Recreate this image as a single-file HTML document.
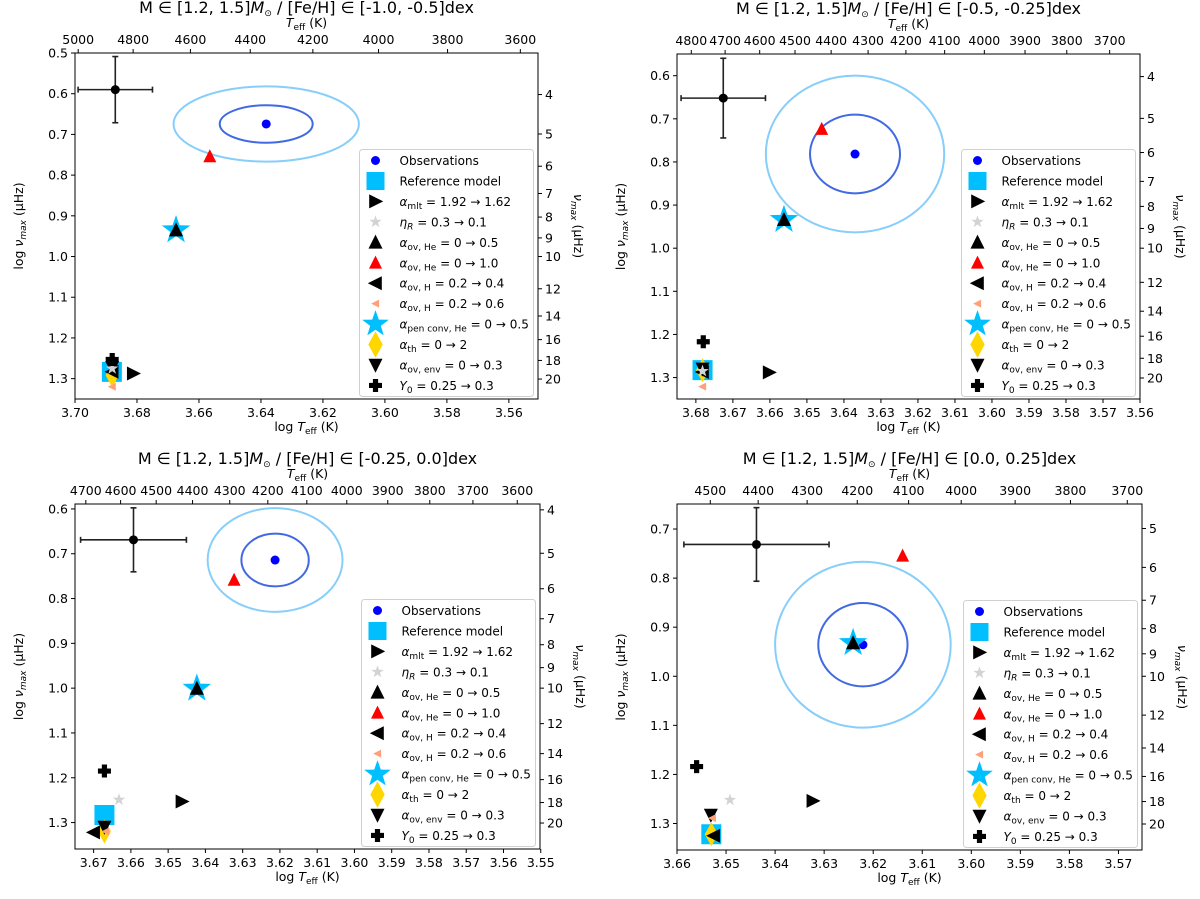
<!DOCTYPE html>
<html><head><meta charset="utf-8"><title>HR diagrams</title>
<style>
html,body{margin:0;padding:0;background:#fff;}
svg{display:block;font-family:"DejaVu Sans","Liberation Sans",sans-serif;}
.tick{font-size:12.5px;fill:#000;}
.lbl{font-size:12.5px;fill:#000;}
.ttl{font-size:16px;fill:#000;}
.leg{font-size:12px;fill:#000;}
</style></head>
<body>
<svg id="fig" width="1200" height="899" viewBox="0 0 1200 899" xmlns="http://www.w3.org/2000/svg"></svg>
<script>
// ---- data ----
const modelNames = ['ref','mlt','eta','ovHe05','ovHe10','ovH04','ovH06','pen','th','env','Y0'];
const p1LogTeff  = [3.6881,3.6812,3.6880,3.6674,3.6565,3.6880,3.6880,3.6674,3.6880,3.6880,3.6880];
const p1LogNumax = [1.2833,1.2873,1.2750,0.9350,0.7540,1.2830,1.3200,0.9350,1.2920,1.2720,1.2530];
const p2LogTeff  = [3.6782,3.6602,3.6782,3.6562,3.6460,3.6782,3.6782,3.6562,3.6782,3.6782,3.6780];
const p2LogNumax = [1.2826,1.2880,1.2850,0.9340,0.7237,1.2870,1.3210,0.9340,1.2830,1.2800,1.2170];
const p3LogTeff  = [3.6671,3.6463,3.6632,3.6423,3.6323,3.6700,3.6668,3.6423,3.6671,3.6671,3.6671];
const p3LogNumax = [1.2830,1.2530,1.2490,1.0008,0.7585,1.3220,1.3200,1.0008,1.3200,1.3100,1.1850];
const p4LogTeff  = [3.6530,3.6323,3.6492,3.6241,3.6140,3.6525,3.6528,3.6241,3.6530,3.6531,3.6560];
const p4LogNumax = [1.3220,1.2540,1.2520,0.9320,0.7545,1.3250,1.2890,0.9320,1.3220,1.2827,1.1840];
const obsLogTeff  = [3.6383,3.6370,3.6213,3.6221];
const obsLogNumax = [0.6744,0.7816,0.7140,0.9357];
const sig1Teff  = [0.0150,0.01216,0.00904,0.0091];
const sig1Numax = [0.0460,0.0913,0.0588,0.0850];
const sig2Teff  = [0.0299,0.0241,0.0181,0.0179];
const sig2Numax = [0.0924,0.1817,0.1157,0.1690];
const ebLogTeff  = [3.6870,3.6726,3.6593,3.6438];
const ebLogNumax = [0.5900,0.6520,0.6690,0.7314];
const ebErrTeff  = [0.0120,0.0114,0.0142,0.0148];
const ebErrNumax = [0.0813,0.0924,0.0714,0.0750];
const titleFeH = ['[-1.0, -0.5]','[-0.5, -0.25]','[-0.25, 0.0]','[0.0, 0.25]'];
const bottomTicks = [
  ['3.70','3.68','3.66','3.64','3.62','3.60','3.58','3.56'],
  ['3.68','3.67','3.66','3.65','3.64','3.63','3.62','3.61','3.60','3.59','3.58','3.57','3.56'],
  ['3.67','3.66','3.65','3.64','3.63','3.62','3.61','3.60','3.59','3.58','3.57','3.56','3.55'],
  ['3.66','3.65','3.64','3.63','3.62','3.61','3.60','3.59','3.58','3.57']];
const leftTicks = [
  ['0.5','0.6','0.7','0.8','0.9','1.0','1.1','1.2','1.3'],
  ['0.6','0.7','0.8','0.9','1.0','1.1','1.2','1.3'],
  ['0.6','0.7','0.8','0.9','1.0','1.1','1.2','1.3'],
  ['0.7','0.8','0.9','1.0','1.1','1.2','1.3']];
const topTicks = [
  [5000,4800,4600,4400,4200,4000,3800,3600],
  [4800,4700,4600,4500,4400,4300,4200,4100,4000,3900,3800,3700],
  [4700,4600,4500,4400,4300,4200,4100,4000,3900,3800,3700,3600],
  [4500,4400,4300,4200,4100,4000,3900,3800,3700]];
const rightTicks = [
  [4,5,6,7,8,9,10,12,14,16,18,20],
  [4,5,6,7,8,9,10,12,14,16,18,20],
  [4,5,6,7,8,9,10,12,14,16,18,20],
  [5,6,7,8,9,10,12,14,16,18,20]];

// ---- layout ----
const panels = [
  {L:75,R:538,T:53,B:399,x0:3.70,x1:3.5506,y0:0.5,y1:1.35,xs:p1LogTeff,ys:p1LogNumax},
  {L:677,R:1140,T:54,B:399,x0:3.6851,x1:3.56,y0:0.5497,y1:1.3497,xs:p2LogTeff,ys:p2LogNumax},
  {L:75,R:540,T:504,B:849,x0:3.675,x1:3.5502,y0:0.589,y1:1.359,xs:p3LogTeff,ys:p3LogNumax},
  {L:677,R:1142,T:504,B:850,x0:3.66,x1:3.5652,y0:0.649,y1:1.354,xs:p4LogTeff,ys:p4LogNumax}];

const NS='http://www.w3.org/2000/svg';
const svg=document.getElementById('fig');
function mk(tag,attrs,parent){const e=document.createElementNS(NS,tag);for(const k in attrs)e.setAttribute(k,attrs[k]);(parent||svg).appendChild(e);return e;}

function shapePath(shape,cx,cy,s){
  if(shape==='square'){return `M${cx-s/2},${cy-s/2}h${s}v${s}h${-s}Z`;}
  if(shape==='up'){return `M${cx},${cy-s*0.55}L${cx+s*0.5},${cy+s*0.45}L${cx-s*0.5},${cy+s*0.45}Z`;}
  if(shape==='down'){return `M${cx},${cy+s*0.55}L${cx+s*0.5},${cy-s*0.45}L${cx-s*0.5},${cy-s*0.45}Z`;}
  if(shape==='right'){return `M${cx+s*0.55},${cy}L${cx-s*0.45},${cy-s*0.5}L${cx-s*0.45},${cy+s*0.5}Z`;}
  if(shape==='left'){return `M${cx-s*0.55},${cy}L${cx+s*0.45},${cy-s*0.5}L${cx+s*0.45},${cy+s*0.5}Z`;}
  if(shape==='diamond'){return `M${cx},${cy-s*0.55}L${cx+s*0.3},${cy}L${cx},${cy+s*0.55}L${cx-s*0.3},${cy}Z`;}
  if(shape==='star'){let d='';for(let i=0;i<10;i++){const r=i%2?s*0.2:s*0.5;const a=-Math.PI/2+i*Math.PI/5;d+=(i?'L':'M')+(cx+r*Math.cos(a)).toFixed(2)+','+(cy+r*Math.sin(a)).toFixed(2);}return d+'Z';}
  if(shape==='plus'){const a=s/2,t=s*0.2;return `M${cx-t},${cy-a}h${2*t}v${a-t}h${a-t}v${2*t}h${-(a-t)}v${a-t}h${-2*t}v${-(a-t)}h${-(a-t)}v${-2*t}h${a-t}Z`;}
}
const styleOf = {
  ref:{shape:'square',color:'#00bfff',size:20},
  mlt:{shape:'right',color:'#000',size:14},
  eta:{shape:'star',color:'#d3d3d3',size:13},
  ovHe05:{shape:'up',color:'#000',size:14},
  ovHe10:{shape:'up',color:'#ff0000',size:13},
  ovH04:{shape:'left',color:'#000',size:14},
  ovH06:{shape:'left',color:'#ffa07a',size:8},
  pen:{shape:'star',color:'#00bfff',size:30},
  th:{shape:'diamond',color:'#ffd700',size:22},
  env:{shape:'down',color:'#000',size:14},
  Y0:{shape:'plus',color:'#000',size:13}};
const drawOrder=['ref','pen','th','ovH04','env','eta','ovH06','ovHe05','ovHe10','mlt','Y0'];
const legendLabels = {
  obs:[['Observations','n']],
  ref:[['Reference model','n']],
  mlt:[['α','i'],['mlt','s'],[' = 1.92 → 1.62','n']],
  eta:[['η','i'],['R','si'],[' = 0.3 → 0.1','n']],
  ovHe05:[['α','i'],['ov, He','s'],[' = 0 → 0.5','n']],
  ovHe10:[['α','i'],['ov, He','s'],[' = 0 → 1.0','n']],
  ovH04:[['α','i'],['ov, H','s'],[' = 0.2 → 0.4','n']],
  ovH06:[['α','i'],['ov, H','s'],[' = 0.2 → 0.6','n']],
  pen:[['α','i'],['pen conv, He','s'],[' = 0 → 0.5','n']],
  th:[['α','i'],['th','s'],[' = 0 → 2','n']],
  env:[['α','i'],['ov, env','s'],[' = 0 → 0.3','n']],
  Y0:[['Y','i'],['0','s'],[' = 0.25 → 0.3','n']]};
const legendOrder=['obs','ref','mlt','eta','ovHe05','ovHe10','ovH04','ovH06','pen','th','env','Y0'];

function addRich(t,parts){
  for(const [s,k] of parts){
    const sp=mk('tspan',{},t);
    sp.textContent=s;
    if(k==='i')sp.setAttribute('font-style','italic');
    if(k==='s'||k==='si'){sp.setAttribute('font-size','9px');sp.setAttribute('dy','3');if(k==='si')sp.setAttribute('font-style','italic');}
    if(k==='n'&&sp.previousSibling&&sp.previousSibling.getAttribute&&sp.previousSibling.getAttribute('dy')==='3')sp.setAttribute('dy','-3');
  }
}

panels.forEach((P,pi)=>{
  const g=mk('g',{});
  
  
  const X=v=>P.L+(P.x0-v)/(P.x0-P.x1)*(P.R-P.L);
  const Y=v=>P.T+(v-P.y0)/(P.y1-P.y0)*(P.B-P.T);
  const cxm=(P.L+P.R)/2, cym=(P.T+P.B)/2;

  const tt=mk('text',{x:cxm,y:P.T-40,'text-anchor':'middle',class:'ttl'},g);
  
  
  addRich(tt,[['M ∈ [1.2, 1.5]','n'],['M','i'],['⊙','s'],[' / [Fe/H] ∈ '+titleFeH[pi]+'dex','n']]);
  tt.lastChild.setAttribute('dy','-3');

  const e2=mk('ellipse',{cx:X(obsLogTeff[pi]),cy:Y(obsLogNumax[pi]),rx:X(obsLogTeff[pi]-sig2Teff[pi])-X(obsLogTeff[pi]),ry:Y(obsLogNumax[pi]+sig2Numax[pi])-Y(obsLogNumax[pi]),fill:'none',stroke:'#87cefa','stroke-width':2},g);
  
  
  const e1=mk('ellipse',{cx:X(obsLogTeff[pi]),cy:Y(obsLogNumax[pi]),rx:X(obsLogTeff[pi]-sig1Teff[pi])-X(obsLogTeff[pi]),ry:Y(obsLogNumax[pi]+sig1Numax[pi])-Y(obsLogNumax[pi]),fill:'none',stroke:'#4169e1','stroke-width':2},g);
  
  
  const od=mk('circle',{cx:X(obsLogTeff[pi]),cy:Y(obsLogNumax[pi]),r:4.5,fill:'#0000ff'},g);
  
  

  const eg=mk('g',{stroke:'#222','stroke-width':1.6,fill:'none'},g);
  
  
  const ex=X(ebLogTeff[pi]), ey=Y(ebLogNumax[pi]);
  const exl=X(ebLogTeff[pi]+ebErrTeff[pi]), exr=X(ebLogTeff[pi]-ebErrTeff[pi]);
  const eyt=Y(ebLogNumax[pi]-ebErrNumax[pi]), eyb=Y(ebLogNumax[pi]+ebErrNumax[pi]);
  mk('line',{x1:exl,y1:ey,x2:exr,y2:ey},eg);
  mk('line',{x1:ex,y1:eyt,x2:ex,y2:eyb},eg);
  mk('line',{x1:exl,y1:ey-3,x2:exl,y2:ey+3},eg);
  mk('line',{x1:exr,y1:ey-3,x2:exr,y2:ey+3},eg);
  mk('line',{x1:ex-3,y1:eyt,x2:ex+3,y2:eyt},eg);
  mk('line',{x1:ex-3,y1:eyb,x2:ex+3,y2:eyb},eg);
  mk('circle',{cx:ex,cy:ey,r:4.5,fill:'#000',stroke:'none'},eg);

  drawOrder.forEach(m=>{
    const i=modelNames.indexOf(m), s=styleOf[m];
    const p=mk('path',{d:shapePath(s.shape,X(P.xs[i]),Y(P.ys[i]),s.size),fill:s.color},g);
    
    
  });

  const fr=mk('rect',{x:P.L,y:P.T,width:P.R-P.L,height:P.B-P.T,fill:'none',stroke:'#000','stroke-width':1},g);
  
  

  bottomTicks[pi].forEach(lab=>{
    const x=X(parseFloat(lab));
    mk('line',{x1:x,y1:P.B,x2:x,y2:P.B+4,stroke:'#000'},g);
    const t=mk('text',{x:x,y:P.B+18,'text-anchor':'middle',class:'tick'},g);
    
    
    t.textContent=lab;
  });
  leftTicks[pi].forEach(lab=>{
    const y=Y(parseFloat(lab));
    mk('line',{x1:P.L-4,y1:y,x2:P.L,y2:y,stroke:'#000'},g);
    const t=mk('text',{x:P.L-7,y:y+4.5,'text-anchor':'end',class:'tick'},g);
    
    
    t.textContent=lab;
  });
  topTicks[pi].forEach(v=>{
    const x=X(Math.log10(v));
    mk('line',{x1:x,y1:P.T-4,x2:x,y2:P.T,stroke:'#000'},g);
    const t=mk('text',{x:x,y:P.T-9,'text-anchor':'middle',class:'tick'},g);
    
    
    t.textContent=v;
  });
  rightTicks[pi].forEach(v=>{
    const y=Y(Math.log10(v));
    mk('line',{x1:P.R,y1:y,x2:P.R+4,y2:y,stroke:'#000'},g);
    const t=mk('text',{x:P.R+7,y:y+4.5,'text-anchor':'start',class:'tick'},g);
    
    
    t.textContent=v;
  });

  const xl=mk('text',{x:cxm,y:P.B+32,'text-anchor':'middle',class:'lbl'},g);
  
  
  addRich(xl,[['log ','n'],['T','i'],['eff','s'],[' (K)','n']]);
  const tl=mk('text',{x:cxm,y:P.T-26,'text-anchor':'middle',class:'lbl'},g);
  
  
  addRich(tl,[['T','i'],['eff','s'],[' (K)','n']]);
  const yl=mk('text',{x:0,y:0,'text-anchor':'middle',class:'lbl',transform:`translate(${P.L-52},${cym}) rotate(-90)`},g);
  
  
  addRich(yl,[['log ','n'],['ν','i'],['max','si'],[' (μHz)','n']]);
  const rl=mk('text',{x:0,y:0,'text-anchor':'middle',class:'lbl',transform:`translate(${P.R+36},${cym}) rotate(90)`},g);
  
  
  addRich(rl,[['ν','i'],['max','si'],[' (μHz)','n']]);

  const lw=174, lh=247, lx=P.R-4.5-lw, ly=P.B-2.5-lh;
  const lg=mk('g',{},g);
  
  
  mk('rect',{x:lx,y:ly,width:lw,height:lh,rx:3,fill:'#fff','fill-opacity':0.85,stroke:'#d0d0d0'},lg);
  legendOrder.forEach((k,j)=>{
    const yy=ly+11+j*20.45, mx=lx+16;
    const eg2=mk('g',{},lg);
    
    
    if(k==='obs'){mk('circle',{cx:mx,cy:yy,r:4.5,fill:'#0000ff'},eg2);}
    else{const s=styleOf[k];const sz=k==='ref'?18:(k==='pen'?28:(k==='th'?24:s.size));mk('path',{d:shapePath(s.shape,mx,yy,sz),fill:s.color},eg2);}
    const t=mk('text',{x:lx+40,y:yy+4.5,class:'leg'},eg2);
    addRich(t,legendLabels[k]);
  });
});
</script>
</body></html>
